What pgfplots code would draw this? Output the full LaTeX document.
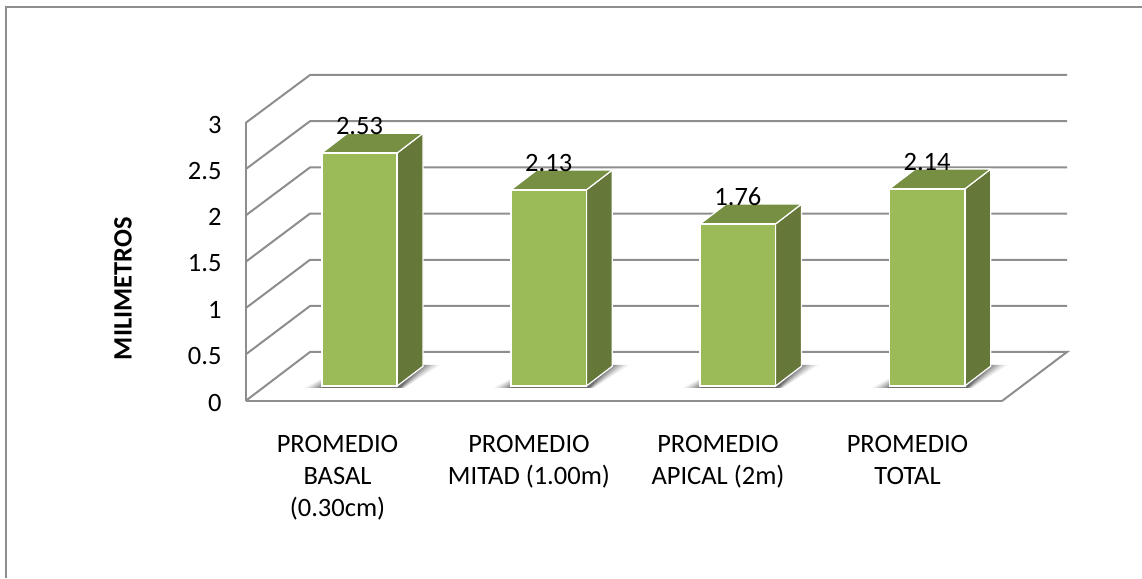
\documentclass[border=0pt]{standalone}
\usepackage{pgfplots}
\pgfplotsset{compat=1.18}
\usepackage{fontspec}
\setmainfont{Carlito}
\definecolor{barfront}{HTML}{9BBB59}
\definecolor{bartop}{HTML}{778F43}
\definecolor{barside}{HTML}{667839}
\definecolor{gridg}{HTML}{8E8E8E}
\begin{document}
\begin{tikzpicture}
\path[use as bounding box] (0pt,0pt) rectangle (1142pt,578pt);
\begin{scope}[x=1pt,y=-1pt,yshift=578pt]
  \draw[gridg,line width=2pt] (5.5,578) -- (5.5,7.5) -- (1142,7.5);
  \draw[gridg,line width=2pt,line join=miter] (245.5,123) -- (310,75) -- (1067,75);
  \draw[gridg,line width=2pt] (245.5,169.3) -- (310,121.2) -- (1067,121.2);
  \draw[gridg,line width=2pt] (245.5,215.6) -- (310,167.4) -- (1067,167.4);
  \draw[gridg,line width=2pt] (245.5,262) -- (310,213.6) -- (1067,213.6);
  \draw[gridg,line width=2pt] (245.5,308.3) -- (310,259.8) -- (1067,259.8);
  \draw[gridg,line width=2pt] (245.5,354.6) -- (310,306) -- (1067,306);
  \draw[gridg,line width=2pt] (245.5,401) -- (310,352) -- (1067,352) -- (1002,401);
\end{scope}
\begin{axis}[
  at={(245.5pt,177pt)},anchor=south west,
  scale only axis,width=756.5pt,height=278pt,
  xmin=245.5,xmax=1002,ymin=0,ymax=3,
  axis y line=left,axis x line=bottom,
  axis line style={-,draw=gridg,line width=2pt},
  major tick length=0pt,
  clip=false,
  xtick={337.5,529,718,907.5},
  xticklabels={{PROMEDIO\\BASAL\\(0.30cm)},{PROMEDIO\\MITAD (1.00m)},{PROMEDIO\\APICAL (2m)},{PROMEDIO\\TOTAL}},
  x tick label style={align=center,font=\fontsize{26.5}{32}\selectfont,anchor=north,yshift=-31pt},
  ytick={0,0.5,1,1.5,2,2.5,3},
  y tick label style={/pgf/number format/assume math mode=true,font=\fontsize{26.5}{32}\selectfont,anchor=east,xshift=-20.5pt,yshift=-1.5pt},
  ylabel={\textbf{MILIMETROS}},
  every axis y label/.style={at={(axis description cs:-0.162,0.404)},rotate=90,anchor=center,font=\fontsize{26.5}{32}\selectfont},
]
\end{axis}
\begin{scope}[x=1pt,y=-1pt,yshift=578pt]
  \foreach \s in {0,189.2,378.4,567.6}{
    \foreach \e/\o in {18/.05,15/.07,12/.09,9/.11,6/.13,3/.15,0/.17}{
      \fill[black,opacity=\o] (322-\e+\s,388) -- (400+\s+\e/4,388) -- (422+\e+\s,365) -- (347+\s,365) -- cycle;
    }
  }
\end{scope}
\begin{axis}[
  at={(359.5pt,192pt)},anchor=south west,
  scale only axis,x=189.2pt,y=92.1pt,
  xmin=0,xmax=3,ymin=0,ymax=2.6,
  axis lines=none,clip=false,
]
\addplot[fill=barside,draw=white,line width=1.2pt,line join=round,forget plot] coordinates {(0.1993,0)(0.3360,0.2150)(0.3360,2.7450)(0.1993,2.53)} -- cycle;
\addplot[fill=bartop,draw=white,line width=1.2pt,line join=round,forget plot] coordinates {(-0.1993,2.53)(0.1993,2.53)(0.3360,2.7450)(-0.0626,2.7450)} -- cycle;
\addplot[fill=barside,draw=white,line width=1.2pt,line join=round,forget plot] coordinates {(1.1993,0)(1.3360,0.2150)(1.3360,2.3450)(1.1993,2.13)} -- cycle;
\addplot[fill=bartop,draw=white,line width=1.2pt,line join=round,forget plot] coordinates {(0.8007,2.13)(1.1993,2.13)(1.3360,2.3450)(0.9374,2.3450)} -- cycle;
\addplot[fill=barside,draw=white,line width=1.2pt,line join=round,forget plot] coordinates {(2.1993,0)(2.3360,0.2150)(2.3360,1.9750)(2.1993,1.76)} -- cycle;
\addplot[fill=bartop,draw=white,line width=1.2pt,line join=round,forget plot] coordinates {(1.8007,1.76)(2.1993,1.76)(2.3360,1.9750)(1.9374,1.9750)} -- cycle;
\addplot[fill=barside,draw=white,line width=1.2pt,line join=round,forget plot] coordinates {(3.1993,0)(3.3360,0.2150)(3.3360,2.3550)(3.1993,2.14)} -- cycle;
\addplot[fill=bartop,draw=white,line width=1.2pt,line join=round,forget plot] coordinates {(2.8007,2.14)(3.1993,2.14)(3.3360,2.3550)(2.9374,2.3550)} -- cycle;
\addplot[ybar,bar width=75.4pt,fill=barfront,draw=white,line width=1.6pt,
  nodes near coords,point meta=y,
  nodes near coords style={anchor=center,yshift=27pt,text=black,font=\fontsize{26.5}{32}\selectfont,
    /pgf/number format/fixed,/pgf/number format/fixed zerofill,/pgf/number format/precision=2,/pgf/number format/assume math mode=true}]
  coordinates {(0,2.53)(1,2.13)(2,1.76)(3,2.14)};
\end{axis}
\end{tikzpicture}
\end{document}
